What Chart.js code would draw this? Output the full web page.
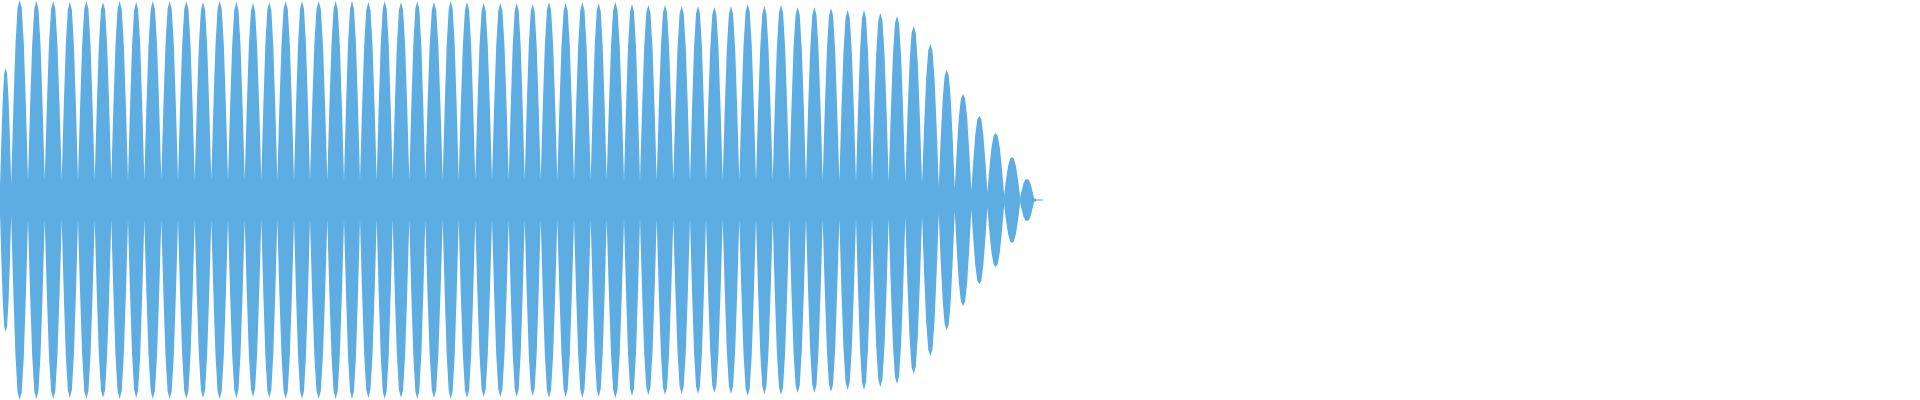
<!DOCTYPE html>
<html>
<head>
<meta charset="utf-8">
<title>Waveform</title>
<script src="https://cdn.jsdelivr.net/npm/chart.js@4.4.1/dist/chart.umd.min.js"></script>
<style>
  html, body { margin: 0; padding: 0; background: #ffffff; }
  .container { width: 1920px; height: 400px; position: relative; }
</style>
</head>
<body>
<div class="container"><canvas id="myChart"></canvas></div>
<script>
// Sample positions where the waveform dips between two lobes (gaps)
const troughTimes = [
	0, 11.3, 28, 44.7, 61.7, 78, 94.7, 111.3, 128, 144.3, 161.3, 178, 194.7, 211.3, 228, 244.7,
	261.3, 277.3, 294, 310, 327.3, 344, 360, 376.7, 392.7, 409.3, 425.3, 442.7, 458.7, 475.3, 492, 508.7,
	524.7, 540.7, 557.3, 574, 590.7, 606.7, 624, 640, 656.7, 673.3, 690, 706, 722.7, 739.3, 756, 772.7,
	789.3, 806, 822.7, 839.3, 856, 872, 888.7, 905.3, 922, 938.7, 954.7, 971.3, 987.3, 1004, 1020, 1034
];

// Peak amplitude of each lobe (full scale = 1)
const peakLevels = [
	0.66, 1.0, 0.995, 0.995, 0.99, 0.995, 0.99, 0.995, 0.99, 0.995, 0.995, 0.995, 0.99, 0.995, 0.99, 0.985,
	0.99, 0.995, 0.995, 0.995, 0.995, 0.995, 0.99, 0.995, 0.99, 0.995, 0.99, 0.995, 0.99, 0.985, 0.985, 0.985,
	0.98, 0.99, 0.985, 0.99, 0.985, 0.99, 0.98, 0.975, 0.975, 0.97, 0.97, 0.965, 0.97, 0.98, 0.97, 0.975,
	0.965, 0.965, 0.96, 0.95, 0.95, 0.935, 0.92, 0.87, 0.78, 0.65, 0.53, 0.42, 0.335, 0.215, 0.105
];

// Shape of a lobe from its centre out to the dip, measured on the second lobe
const lobeSteps = [0, 0.25, 0.5, 0.75, 1];
const lobeProfile = [1, 0.96, 0.78, 0.47, 0.1];

// Near-silent tail after the last lobe
const tailTimes = [1034, 1037, 1043.5];
const tailLevels = [0.01, 0.003, 0.003];

const totalSamples = 1920;
const waveColor = '#5DADE2';

document.addEventListener('DOMContentLoaded', () => {
	const ctx = document.getElementById('myChart').getContext('2d');

	// Build the outline of the envelope lobe by lobe
	const upper = [];
	peakLevels.forEach((peak, i) => {
		const start = troughTimes[i];
		const end = troughTimes[i + 1];
		const mid = (start + end) / 2;
		const half = (end - start) / 2;
		for (let j = lobeSteps.length - 1; j > 0; j--) {
			upper.push({ x: mid - lobeSteps[j] * half, y: lobeProfile[j] * peak });
		}
		upper.push({ x: mid, y: peak });
		for (let j = 1; j < lobeSteps.length; j++) {
			upper.push({ x: mid + lobeSteps[j] * half, y: lobeProfile[j] * peak });
		}
	});
	tailTimes.forEach((t, i) => upper.push({ x: t, y: tailLevels[i] }));

	const lower = upper.map(p => ({ x: p.x, y: -p.y }));

	new Chart(ctx, {
		type: 'line',
		data: {
			datasets: [{
				label: 'upper',
				data: upper,
				borderWidth: 0,
				borderColor: waveColor,
				backgroundColor: waveColor,
				pointRadius: 0,
				tension: 0,
				fill: '+1'
			}, {
				label: 'lower',
				data: lower,
				borderWidth: 0,
				borderColor: waveColor,
				backgroundColor: waveColor,
				pointRadius: 0,
				tension: 0,
				fill: false
			}]
		},
		options: {
			responsive: true,
			maintainAspectRatio: false,
			animation: false,
			layout: { padding: 0 },
			plugins: {
				legend: { display: false },
				tooltip: { enabled: false }
			},
			scales: {
				x: { type: 'linear', min: 0, max: totalSamples, display: false },
				y: { min: -1, max: 1, display: false }
			}
		}
	});
});
</script>
</body>
</html>
